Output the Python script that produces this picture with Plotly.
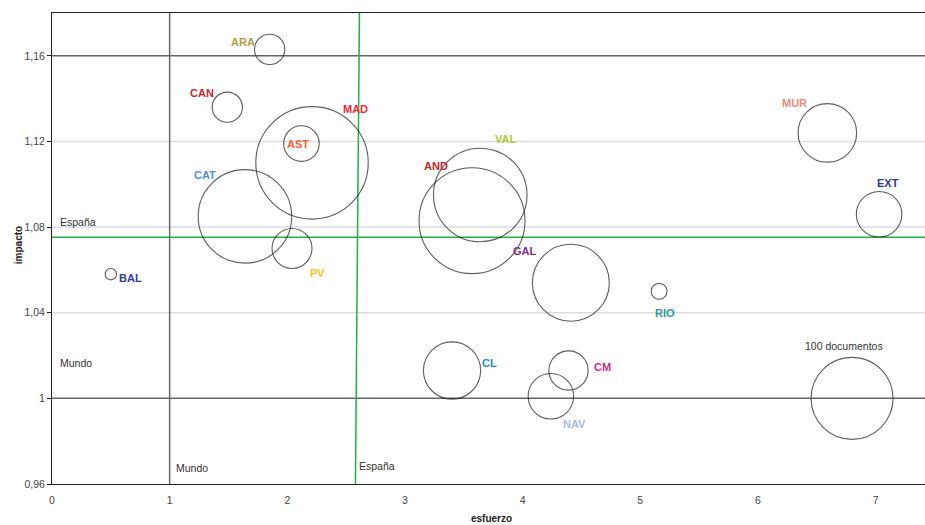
import plotly.graph_objects as go

# datos por comunidad
regiones = ["ARA", "CAN", "AST", "MAD", "CAT", "PV", "BAL", "AND",
            "VAL", "GAL", "RIO", "CL", "CM", "NAV", "MUR", "EXT"]
esfuerzo = [1.85, 1.49, 2.12, 2.21, 1.64, 2.04, 0.50, 3.57,
            3.64, 4.41, 5.16, 3.40, 4.39, 4.24, 6.59, 7.03]
impacto = [1.163, 1.136, 1.119, 1.110, 1.085, 1.070, 1.058, 1.083,
           1.095, 1.054, 1.050, 1.013, 1.013, 1.001, 1.124, 1.086]
documentos = [13.6, 13.6, 18.9, 188, 130, 23.8, 1.9, 167,
              130, 88, 3.8, 48.7, 22.9, 30.7, 51, 30.9]

# burbuja de referencia
ref_label = "100 documentos"
ref_docs = [100]
ref_x = [6.80]
ref_y = [1.0]

# referencias
mundo_x = 1.0
mundo_y = 1.0
espana_x = [2.579, 2.613]   # abajo, arriba
espana_y = 1.0753

# estilo de etiquetas: color y desplazamiento (px) respecto a la burbuja
colores = {"ARA": "#b1a043", "CAN": "#c1272d", "AST": "#ff5b2b", "MAD": "#ee2a3a",
           "CAT": "#4a8fd6", "PV": "#f7c221", "BAL": "#2e3a9b", "AND": "#c1272d",
           "VAL": "#a9c934", "GAL": "#7b2f8f", "RIO": "#2a9c98", "CL": "#1c8bd0",
           "CM": "#d02b8b", "NAV": "#a9b9e2", "MUR": "#f3877a", "EXT": "#2e3a8c"}
desp = {"ARA": (-27, 7), "CAN": (-25, 14), "AST": (-3, 0), "MAD": (43, 54),
        "CAT": (-40, 41), "PV": (25, -24), "BAL": (20, -4), "AND": (-36, 55),
        "VAL": (25, 56), "GAL": (-46, 32), "RIO": (6, -22), "CL": (37, 8),
        "CM": (34, 4), "NAV": (24, -28), "MUR": (-33, 30), "EXT": (9, 31)}

sizeref = 50 / 41 ** 2
fuente = "Liberation Sans, Arial, sans-serif"

fig = go.Figure()
fig.add_trace(go.Scatter(
    x=esfuerzo + ref_x, y=impacto + ref_y, mode="markers",
    marker=dict(size=documentos + ref_docs, sizemode="area", sizeref=sizeref,
                color="rgba(0,0,0,0)", line=dict(color="#1a1a1a", width=1.1)),
    hoverinfo="skip", showlegend=False, cliponaxis=False))

anots = []
for r, x, y in zip(regiones, esfuerzo, impacto):
    dx, dy = desp[r]
    anots.append(dict(x=x, y=y, text="<b>%s</b>" % r, showarrow=False, xshift=dx, yshift=dy,
                      font=dict(color=colores[r], size=11, family=fuente)))
anots.append(dict(x=ref_x[0], y=ref_y[0], text=ref_label, showarrow=False, xshift=-8, yshift=52,
                  font=dict(color="#333", size=10.5, family=fuente)))
# textos de referencia
txt = dict(showarrow=False, font=dict(color="#333", size=10.5, family=fuente))
anots.append(dict(x=0.05, y=espana_y, text="España", xanchor="left", yshift=15, **txt))
anots.append(dict(x=0.05, y=mundo_y, text="Mundo", xanchor="left", yshift=35, **txt))
anots.append(dict(x=mundo_x, y=0.96, text="Mundo", xanchor="left", xshift=4, yshift=16, **txt))
anots.append(dict(x=espana_x[0], y=0.96, text="España", xanchor="left", xshift=2, yshift=18, **txt))
# títulos de ejes
tit = dict(showarrow=False, xref="paper", yref="paper", xanchor="center", yanchor="middle",
           font=dict(size=10, color="#222", family=fuente))
anots.append(dict(x=0.503, y=-0.074, text="<b>esfuerzo</b>", **tit))
anots.append(dict(x=-0.039, y=0.507, text="<b>impacto</b>", textangle=-90, **tit))

shapes = []
for g in [1.04, 1.08, 1.12]:
    shapes.append(dict(type="line", xref="paper", x0=0, x1=1, y0=g, y1=g,
                       line=dict(color="#dcdcdc", width=1.5), layer="below"))
for g in [1.16, mundo_y]:
    shapes.append(dict(type="line", xref="paper", x0=0, x1=1, y0=g, y1=g,
                       line=dict(color="#666", width=1.5), layer="below"))
shapes.append(dict(type="line", yref="paper", x0=mundo_x, x1=mundo_x, y0=0, y1=1,
                   line=dict(color="#666", width=1.5), layer="below"))
shapes.append(dict(type="line", xref="paper", x0=0, x1=1, y0=espana_y, y1=espana_y,
                   line=dict(color="#1eb04a", width=1.5), layer="below"))
shapes.append(dict(type="line", x0=espana_x[0], x1=espana_x[1], y0=0.96, y1=1.18,
                   line=dict(color="#1eb04a", width=1.5), layer="below"))

fig.update_layout(
    width=925, height=525, margin=dict(l=52, r=0, t=13, b=41),
    plot_bgcolor="white", paper_bgcolor="white", separators=",.",
    font=dict(family=fuente, color="#333", size=11),
    annotations=anots, shapes=shapes,
    xaxis=dict(range=[0, 7.42], dtick=1, tick0=0, showgrid=False, zeroline=False,
               showline=True, mirror=True, linecolor="#222", linewidth=1, automargin=False,
               ticks="", ticklabelstandoff=6, tickfont=dict(size=10.5, color="#444")),
    yaxis=dict(range=[0.96, 1.18], dtick=0.04, tick0=0.96, showgrid=False, zeroline=False,
               showline=True, linecolor="#222", linewidth=1, ticks="outside", ticklen=4,
               tickcolor="#222", tickfont=dict(size=10.5, color="#444"), automargin=False),
)

# sin margen del body para que el gráfico ocupe la ventana
fig.write_html("out.html", config={"displayModeBar": False},
               post_script="document.body.style.margin='0';document.body.style.overflow='hidden';")
